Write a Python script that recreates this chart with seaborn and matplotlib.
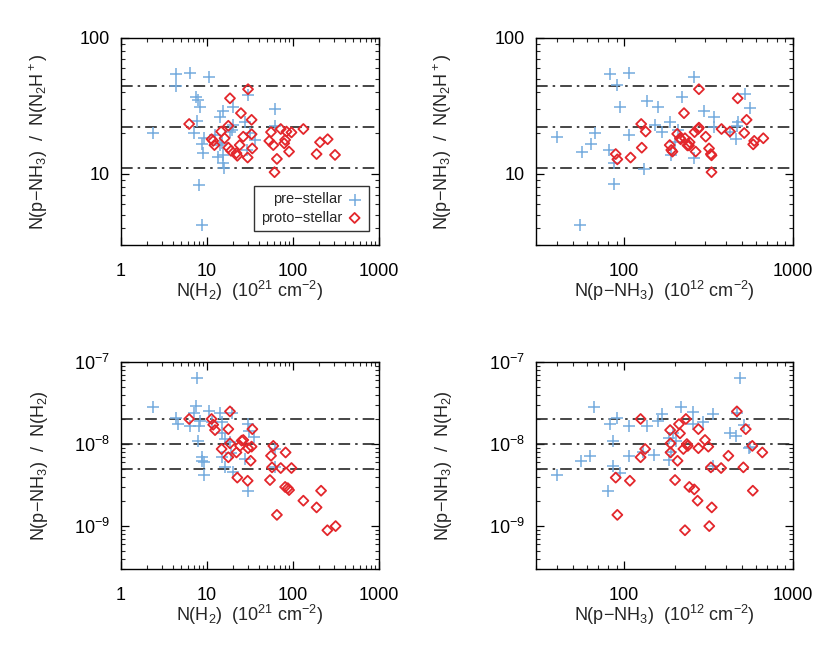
import matplotlib
matplotlib.use("Agg")
import matplotlib.pyplot as plt
import matplotlib.ticker as mticker
import seaborn as sns
import numpy as np

# ---------------- data ----------------
# top-left: x = N(H2) [1e21 cm-2], y = N(p-NH3)/N(N2H+)
tl_pre_x = [4.4, 6.3, 10.5, 4.4, 7.4, 7.8, 8.3, 7.6, 2.33, 7.1, 9.3, 8.8, 9.1, 8.1, 8.8,
            30, 20, 15.5, 14.2, 20.2, 19.4, 18.5, 28, 31.6, 36, 29, 14.8, 13.5, 15.5, 15.5,
            15.9, 62, 61, 12.4, 14.2]
tl_pre_y = [54, 55, 52, 44.6, 37, 35, 31, 24.5, 20, 20, 18.5, 16.5, 14.2, 8.3, 4.2,
            38, 31, 29, 26.4, 23, 21, 20.5, 24, 20, 17.8, 15, 16.8, 13.4, 13.8, 12,
            11, 30, 22.6, 19.4, 16.3]
tl_pro_x = [6.2, 30, 18.5, 24.8, 33, 17.7, 14.6, 11.3, 11.8, 12.2, 16, 17.7, 19, 22, 22.5,
            24, 26.4, 33, 33.6, 29.7, 55.5, 72, 84, 96, 132, 53, 59, 81, 79, 90,
            65, 61, 188, 206, 253, 308]
tl_pro_y = [23.3, 42, 36, 28, 25, 22.6, 20.5, 18, 17.5, 16.3, 18.3, 15.6, 14.8, 14.2, 13.6,
            16.3, 18.8, 19.6, 15.4, 13.2, 20.3, 21.4, 20.5, 20.2, 21.4, 17.5, 16.3, 17.8, 16.8, 14.6,
            12.9, 10.3, 14, 17.1, 18, 13.8]

# top-right: x = N(p-NH3) [1e12 cm-2], y = N(p-NH3)/N(N2H+)
tr_pre_x = [82, 107, 259, 91, 219, 519, 137, 159, 94, 556, 297, 338, 187, 152, 475, 463, 338,
            40, 67, 63.5, 56, 81, 86.5, 86.5, 55, 107, 131, 168, 207, 190, 259, 459, 423, 201]
tr_pre_y = [54, 55, 52, 45, 37, 38.5, 34.4, 31, 31, 30.7, 29, 26.4, 24, 23, 24, 22.6, 22.3,
            18.6, 20, 16.5, 14.4, 15, 12, 8.4, 4.2, 19.4, 10.9, 20.3, 21, 13.8, 13.2, 18, 20.3, 17.3]
tr_pro_x = [277, 470, 226, 531, 126, 134, 261, 274, 277, 377, 423, 514, 206, 304, 214, 229, 244,
            237, 186, 190, 193, 265, 318, 326, 329, 329, 127, 109, 89, 91, 581, 589, 667, 216, 242]
tr_pro_y = [42, 36, 28, 25, 23.3, 20.5, 20.3, 21.4, 21.9, 21.4, 20.5, 20, 19.7, 18.8, 18.3, 18.3, 17.1,
            16.2, 16.3, 15, 14.6, 14.6, 15.4, 14, 13.7, 10.3, 15.6, 13.2, 14, 12.8, 16.5, 17.5, 18.3, 18, 16.2]

# bottom-left: x = N(H2), y = N(p-NH3)/N(H2)
bl_pre_x = [7.6, 2.33, 7.45, 4.4, 4.56, 7.06, 10.5, 14.2, 19.4, 6.3, 8.1, 8.3, 11.3, 14.8, 15.1,
            16.2, 7.9, 29.7, 30.8, 35.5, 18.5, 19, 14.8, 8.8, 8.8, 9.3, 16.1, 9.3, 20.2, 27.7,
            29.7, 61, 61]
bl_pre_y = [6.4e-8, 2.85e-8, 2.93e-8, 2.07e-8, 1.78e-8, 2.36e-8, 2.5e-8, 2.36e-8, 2.36e-8, 1.67e-8,
            1.67e-8, 1.92e-8, 1.84e-8, 1.84e-8, 1.38e-8, 1.15e-8, 1.08e-8, 1.75e-8, 1.43e-8, 1.23e-8,
            1.05e-8, 7.7e-9, 7e-9, 7e-9, 6.25e-9, 6e-9, 5.3e-9, 4.2e-9, 4.6e-9, 6.6e-9,
            2.7e-9, 8.7e-9, 5.3e-9]
bl_pro_x = [6.2, 11.3, 18.5, 11.8, 12.4, 17.7, 33.7, 26.4, 18.5, 24.2, 33, 30, 14.8, 22, 17.7,
            32.2, 59, 82, 55.5, 72, 96, 57, 22.5, 29.7, 54, 81, 87, 90, 132, 212,
            188, 65, 251, 313, 25.3]
bl_pro_y = [2.02e-8, 2.02e-8, 2.5e-8, 1.72e-8, 1.48e-8, 1.52e-8, 1.52e-8, 1.12e-8, 1.02e-8, 9.5e-9,
            9.3e-9, 8.9e-9, 8.7e-9, 7.9e-9, 6.9e-9, 6.25e-9, 9.5e-9, 7.9e-9, 7.2e-9, 5.1e-9,
            5.1e-9, 5.2e-9, 3.9e-9, 3.57e-9, 3.64e-9, 3e-9, 2.9e-9, 2.75e-9, 2.04e-9, 2.7e-9,
            1.69e-9, 1.37e-9, 8.9e-10, 1e-9, 1.1e-8]

# bottom-right: x = N(p-NH3), y = N(p-NH3)/N(H2)
br_pre_x = [485, 66.5, 217, 91, 82, 107, 136, 158, 167, 257, 334, 465, 292, 257, 513, 424, 457,
            185, 202, 86, 130, 151, 107, 63, 55.5, 185, 85.5, 95, 40, 80.5, 334, 557, 195, 188, 547]
br_pre_y = [6.4e-8, 2.85e-8, 2.85e-8, 2.07e-8, 1.78e-8, 1.67e-8, 1.67e-8, 1.92e-8, 2.32e-8, 2.43e-8,
            2.32e-8, 2.36e-8, 1.87e-8, 1.75e-8, 1.72e-8, 1.35e-8, 1.26e-8, 1.18e-8, 1.08e-8, 1.08e-8,
            8.1e-9, 7.4e-9, 7.2e-9, 7.1e-9, 6.25e-9, 6.4e-9, 5.4e-9, 4.5e-9, 4.2e-9, 2.7e-9,
            5.4e-9, 9.3e-9, 1.35e-8, 8.1e-9, 8.9e-9]
br_pro_x = [465, 232, 125, 211, 187, 214, 275, 525, 301, 188, 238, 315, 224, 275, 574, 133, 188,
            658, 414, 125, 207, 326, 375, 508, 89, 108, 200, 243, 260, 578, 272, 330, 91, 319, 229, 235]
br_pro_y = [2.5e-8, 2.02e-8, 2.02e-8, 1.75e-8, 1.48e-8, 1.35e-8, 1.52e-8, 1.52e-8, 1.12e-8, 1.02e-8,
            9.5e-9, 9.3e-9, 8.7e-9, 8.9e-9, 9.5e-9, 8.7e-9, 7.9e-9, 7.9e-9, 7.2e-9, 6.9e-9,
            6.25e-9, 5.2e-9, 5.1e-9, 5.2e-9, 3.9e-9, 3.57e-9, 3.64e-9, 3e-9, 2.8e-9, 2.7e-9,
            2.04e-9, 1.69e-9, 1.37e-9, 1e-9, 8.9e-10, 1e-8]

top_levels = [44, 22, 11]
bottom_levels = [2e-8, 1e-8, 5e-9]

# ---------------- style ----------------
sns.set_theme(style="ticks")
plt.rcParams.update({
    "font.family": ["Liberation Sans", "DejaVu Sans"],
    "font.size": 12,
    "mathtext.fontset": "custom",
    "mathtext.rm": "Liberation Sans",
    "mathtext.it": "Liberation Sans:italic",
    "mathtext.bf": "Liberation Sans:bold",
    "axes.linewidth": 1.0,
    "axes.edgecolor": "black",
    "xtick.direction": "in",
    "ytick.direction": "in",
    "xtick.top": True,
    "ytick.right": True,
})

BLUE = "#74abde"
RED = "#e3262b"

fig = plt.figure(figsize=(8.30, 6.46), dpi=100)
W, H = 830, 646

def add_ax(l, r, t, b):
    return fig.add_axes([l / W, (H - b) / H, (r - l) / W, (b - t) / H])

ax_tl = add_ax(121, 379, 38, 245)
ax_tr = add_ax(536, 793, 38, 245)
ax_bl = add_ax(121, 379, 362, 569)
ax_br = add_ax(536, 793, 362, 569)

panels = [
    (ax_tl, tl_pre_x, tl_pre_y, tl_pro_x, tl_pro_y, "top", "left"),
    (ax_tr, tr_pre_x, tr_pre_y, tr_pro_x, tr_pro_y, "top", "right"),
    (ax_bl, bl_pre_x, bl_pre_y, bl_pro_x, bl_pro_y, "bottom", "left"),
    (ax_br, br_pre_x, br_pre_y, br_pro_x, br_pro_y, "bottom", "right"),
]

dash = (0, (7, 3, 1.5, 3))
for ax, px, py, qx, qy, row, col in panels:
    ax.set_xscale("log")
    ax.set_yscale("log")
    levels = top_levels if row == "top" else bottom_levels
    for lv in levels:
        ax.axhline(lv, color="0.15", lw=1.2, ls=dash, zorder=1)
    sns.scatterplot(x=px, y=py, ax=ax, marker="+", color=BLUE, s=80, linewidth=1.1,
                    label="pre\u2212stellar", zorder=3)
    sns.scatterplot(x=qx, y=qy, ax=ax, marker="D", color=RED, facecolor="none",
                    edgecolor=RED, s=26, linewidth=1.3, label="proto\u2212stellar", zorder=4)

    if col == "left":
        ax.set_xlim(1, 1000)
        ax.xaxis.set_major_locator(mticker.FixedLocator([1, 10, 100, 1000]))
        ax.xaxis.set_major_formatter(mticker.FixedFormatter(["1", "10", "100", "1000"]))
        ax.set_xlabel("N(H$_2$)  (10$^{21}$ cm$^{-2}$)")
    else:
        ax.set_xlim(30, 1000)
        ax.xaxis.set_major_locator(mticker.FixedLocator([100, 1000]))
        ax.xaxis.set_major_formatter(mticker.FixedFormatter(["100", "1000"]))
        ax.set_xlabel("N(p\u2212NH$_3$)  (10$^{12}$ cm$^{-2}$)")
    ax.xaxis.set_minor_locator(mticker.LogLocator(base=10, subs=np.arange(2, 10), numticks=20))
    ax.xaxis.set_minor_formatter(mticker.NullFormatter())

    if row == "top":
        ax.set_ylim(3, 100)
        ax.yaxis.set_major_locator(mticker.FixedLocator([10, 100]))
        ax.yaxis.set_major_formatter(mticker.FixedFormatter(["10", "100"]))
        ax.set_ylabel("N(p\u2212NH$_3$)  /  N(N$_2$H$^+$)")
    else:
        ax.set_ylim(3e-10, 1e-7)
        ax.yaxis.set_major_locator(mticker.FixedLocator([1e-9, 1e-8, 1e-7]))
        ax.yaxis.set_major_formatter(mticker.FixedFormatter(
            ["10$^{-9}$", "10$^{-8}$", "10$^{-7}$"]))
        ax.set_ylabel("N(p\u2212NH$_3$)  /  N(H$_2$)")
    ax.yaxis.set_minor_locator(mticker.LogLocator(base=10, subs=np.arange(2, 10), numticks=20))
    ax.yaxis.set_minor_formatter(mticker.NullFormatter())

    ax.tick_params(which="major", length=6, width=0.9, labelsize=13, pad=8, colors="black")
    ax.tick_params(axis="x", which="major", pad=13)
    ax.tick_params(which="minor", length=3, width=0.8)
    ax.xaxis.label.set_size(13)
    ax.yaxis.label.set_size(13)
    ax.xaxis.set_label_coords(0.5, -0.165)
    ax.yaxis.set_label_coords(-0.275 if col == "left" else -0.32, 0.5)
    for sp in ax.spines.values():
        sp.set_visible(True)
        sp.set_color("black")

    if ax is ax_tl:
        leg = ax.legend(loc="lower right", bbox_to_anchor=(0.962, 0.066), borderaxespad=0,
                        markerfirst=False, frameon=True, fancybox=False, fontsize=10.5,
                        handletextpad=0.3, borderpad=0.45, labelspacing=0.3, handlelength=1.1)
        leg.get_frame().set_edgecolor("black")
        leg.get_frame().set_linewidth(1.0)
    else:
        ax.get_legend().remove()

fig.savefig("out.png", dpi=100)
